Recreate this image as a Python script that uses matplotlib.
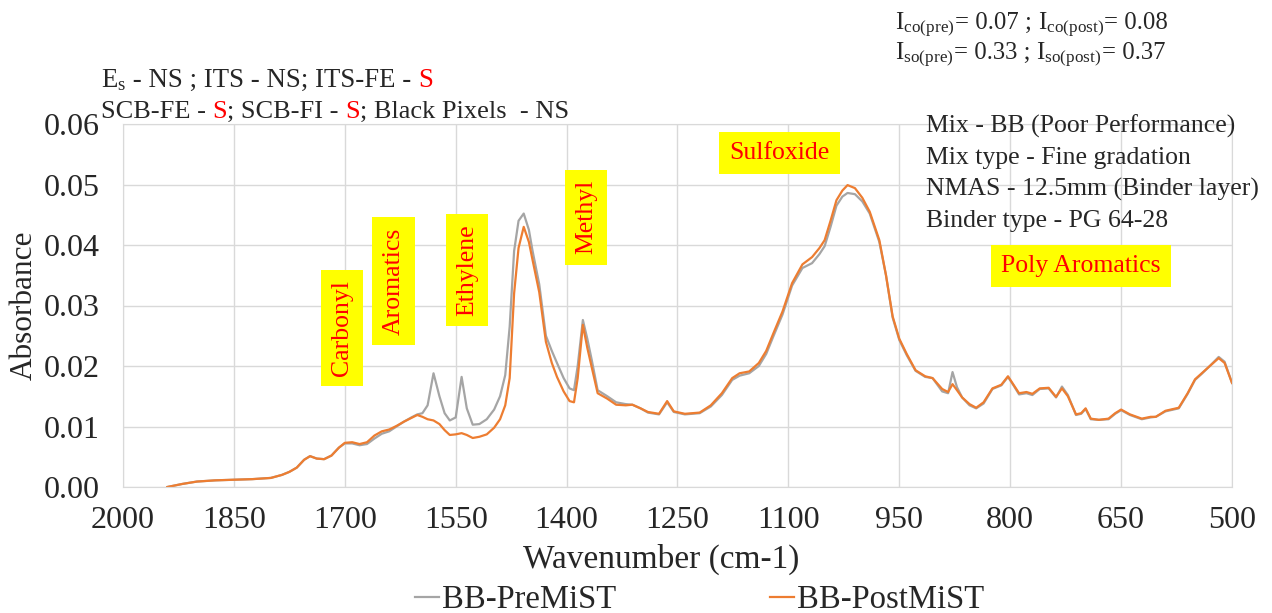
import matplotlib
matplotlib.use("Agg")
import matplotlib.pyplot as plt
from matplotlib.ticker import FormatStrFormatter

# FTIR spectra of the BB mix binder before and after MiST conditioning
wavenumber = [
    1940, 1920, 1900, 1875, 1850, 1825, 1800, 1785, 1775, 1765, 1755, 1747,
    1738, 1728, 1718, 1708, 1700, 1690, 1680, 1670, 1660, 1650, 1640, 1630,
    1620, 1610, 1602, 1595, 1588, 1580, 1572, 1565, 1558, 1550, 1542, 1535,
    1527, 1518, 1508, 1498, 1490, 1483, 1477, 1471, 1465, 1458, 1451, 1446,
    1437, 1428, 1420, 1413, 1404, 1396, 1390, 1385, 1378, 1372, 1366, 1358,
    1345, 1333, 1320, 1311, 1300, 1290, 1275, 1264, 1255, 1240, 1220, 1205,
    1190, 1176, 1166, 1153, 1140, 1130, 1120, 1108, 1095, 1081, 1068, 1058,
    1051, 1043, 1035, 1027, 1020, 1010, 1000, 990, 977, 968, 959, 950,
    940, 928, 915, 905, 892, 884, 878, 872, 865, 855, 846, 836,
    824, 812, 803, 795, 788, 778, 770, 760, 748, 738, 730, 722,
    711, 704, 698, 691, 680, 667, 658, 650, 638, 622, 610, 603,
    590, 572, 560, 550, 541, 530, 518, 510, 500,
]
pre_mist = [
    0.0000, 0.0005, 0.0009, 0.0011, 0.0012, 0.0013, 0.0015, 0.0020, 0.0025, 0.0032, 0.0045, 0.0051,
    0.0047, 0.0046, 0.0052, 0.0065, 0.0072, 0.0072, 0.0069, 0.0071, 0.0080, 0.0088, 0.0092, 0.0100,
    0.0108, 0.0115, 0.0120, 0.0122, 0.0135, 0.0188, 0.0150, 0.0122, 0.0110, 0.0115, 0.0182, 0.0130,
    0.0103, 0.0104, 0.0112, 0.0128, 0.0150, 0.0185, 0.0265, 0.0390, 0.0440, 0.0452, 0.0425, 0.0390,
    0.0335, 0.0250, 0.0225, 0.0205, 0.0180, 0.0163, 0.0160, 0.0200, 0.0276, 0.0245, 0.0210, 0.0160,
    0.0150, 0.0140, 0.0137, 0.0136, 0.0130, 0.0123, 0.0120, 0.0140, 0.0124, 0.0120, 0.0122, 0.0133,
    0.0152, 0.0177, 0.0184, 0.0188, 0.0200, 0.0220, 0.0250, 0.0285, 0.0333, 0.0362, 0.0370, 0.0385,
    0.0398, 0.0430, 0.0465, 0.0480, 0.0486, 0.0484, 0.0472, 0.0452, 0.0405, 0.0350, 0.0280, 0.0243,
    0.0218, 0.0192, 0.0182, 0.0180, 0.0158, 0.0155, 0.0190, 0.0165, 0.0148, 0.0135, 0.0130, 0.0138,
    0.0162, 0.0168, 0.0182, 0.0167, 0.0153, 0.0155, 0.0152, 0.0162, 0.0163, 0.0148, 0.0166, 0.0152,
    0.0119, 0.0121, 0.0129, 0.0112, 0.0111, 0.0112, 0.0121, 0.0127, 0.0119, 0.0112, 0.0115, 0.0116,
    0.0125, 0.0130, 0.0154, 0.0177, 0.0187, 0.0200, 0.0215, 0.0207, 0.0172,
]
post_mist = [
    0.0000, 0.0005, 0.0009, 0.0011, 0.0012, 0.0013, 0.0015, 0.0020, 0.0025, 0.0032, 0.0045, 0.0051,
    0.0047, 0.0046, 0.0052, 0.0065, 0.0073, 0.0074, 0.0071, 0.0074, 0.0085, 0.0092, 0.0095, 0.0101,
    0.0108, 0.0114, 0.0119, 0.0116, 0.0112, 0.0110, 0.0104, 0.0094, 0.0086, 0.0087, 0.0089, 0.0086,
    0.0081, 0.0083, 0.0087, 0.0098, 0.0112, 0.0135, 0.0180, 0.0320, 0.0395, 0.0430, 0.0405, 0.0375,
    0.0322, 0.0240, 0.0205, 0.0182, 0.0158, 0.0142, 0.0140, 0.0180, 0.0268, 0.0230, 0.0198, 0.0155,
    0.0146, 0.0136, 0.0135, 0.0136, 0.0130, 0.0124, 0.0121, 0.0142, 0.0125, 0.0121, 0.0123, 0.0135,
    0.0155, 0.0180, 0.0188, 0.0191, 0.0205, 0.0225, 0.0255, 0.0290, 0.0337, 0.0368, 0.0380, 0.0395,
    0.0408, 0.0440, 0.0474, 0.0490, 0.0499, 0.0494, 0.0478, 0.0455, 0.0408, 0.0350, 0.0282, 0.0245,
    0.0220, 0.0193, 0.0183, 0.0180, 0.0162, 0.0157, 0.0170, 0.0160, 0.0148, 0.0137, 0.0131, 0.0140,
    0.0163, 0.0169, 0.0183, 0.0168, 0.0155, 0.0157, 0.0154, 0.0163, 0.0164, 0.0149, 0.0163, 0.0150,
    0.0120, 0.0122, 0.0130, 0.0113, 0.0111, 0.0113, 0.0122, 0.0128, 0.0120, 0.0113, 0.0116, 0.0116,
    0.0126, 0.0131, 0.0155, 0.0178, 0.0188, 0.0200, 0.0213, 0.0205, 0.0172,
]
series_names = ["BB-PreMiST", "BB-PostMiST"]

# functional group labels: (name, wavenumber, absorbance, vertical?)
groups = [
    ("Carbonyl", 1704, 0.0263, True),
    ("Aromatics", 1634, 0.0340, True),
    ("Ethylene", 1535, 0.0359, True),
    ("Methyl", 1374, 0.0446, True),
    ("Sulfoxide", 1112, 0.0552, False),
    ("Poly Aromatics", 704, 0.0365, False),
]

mix_info = [
    "Mix - BB (Poor Performance)",
    "Mix type - Fine gradation",
    "NMAS - 12.5mm (Binder layer)",
    "Binder type - PG 64-28",
]

plt.rcParams["font.family"] = ["Liberation Serif", "DejaVu Serif"]
plt.rcParams["mathtext.fontset"] = "custom"
plt.rcParams["mathtext.rm"] = "Liberation Serif"
plt.rcParams["mathtext.it"] = "Liberation Serif:italic"

W, H = 1272, 613
dark = "#262626"
fig = plt.figure(figsize=(W / 100, H / 100), dpi=100)
ax = fig.add_axes([123 / W, 1 - 487 / H, (1232 - 123) / W, (487 - 124) / H])

ax.plot(wavenumber, pre_mist, color="#a5a5a5", lw=1.6, label=series_names[0])
ax.plot(wavenumber, post_mist, color="#ed7d31", lw=1.6, label=series_names[1])

ax.set_xlim(2000, 500)
ax.set_ylim(0, 0.06)
ax.set_xticks(range(2000, 499, -150))
ax.set_yticks([0, 0.01, 0.02, 0.03, 0.04, 0.05, 0.06])
ax.yaxis.set_major_formatter(FormatStrFormatter("%.2f"))
ax.grid(True, color="#d9d9d9", lw=1)
ax.set_axisbelow(True)
for sp in ax.spines.values():
    sp.set_color("#d9d9d9")
ax.tick_params(axis="both", length=0, labelsize=23, colors=dark)
ax.tick_params(axis="x", pad=14)
ax.tick_params(axis="y", pad=17)
ax.set_xlabel("Wavenumber (cm-1)", fontsize=24, color=dark, labelpad=6)
ax.xaxis.label.set_x(0.485)
ax.set_ylabel("Absorbance", fontsize=22.5, color=dark, labelpad=3)

for name, wn, ab, vertical in groups:
    ax.text(wn, ab, name, rotation=90 if vertical else 0, ha="center", va="center",
            fontsize=18.5, color="red",
            bbox=dict(boxstyle="square,pad=0.4", fc="yellow", ec="none"))

for i, line in enumerate(mix_info):
    fig.text(926 / W, 1 - (133 + 31.3 * i) / H, line, fontsize=18.5,
             color=dark, va="baseline", ha="left")

renderer = fig.canvas.get_renderer()


def text_run(x_px, base_px, parts, size):
    # write pieces one after another so single words can take their own colour
    x = x_px / W
    for s, c in parts:
        t = fig.text(x, 1 - base_px / H, s, fontsize=size, color=c,
                     va="baseline", ha="left")
        x = t.get_window_extent(renderer=renderer).x1 / W


text_run(101, 87, [(r"$\mathrm{E_s}$", dark), (" - NS ; ITS - NS; ITS-FE - ", dark),
                   ("S", "red")], 19.3)
text_run(101, 118, [("SCB-FE - ", dark), ("S", "red"), ("; SCB-FI - ", dark), ("S", "red"),
                    ("; Black Pixels  - NS", dark)], 19)
text_run(895, 29, [(r"$\mathrm{I_{co(pre)}}$", dark), ("= 0.07 ; ", dark),
                   (r"$\mathrm{I_{co(post)}}$", dark), ("= 0.08", dark)], 17.8)
text_run(895, 59, [(r"$\mathrm{I_{so(pre)}}$", dark), ("= 0.33 ; ", dark),
                   (r"$\mathrm{I_{so(post)}}$", dark), ("= 0.37", dark)], 17.8)

fig.legend(loc="center", bbox_to_anchor=(0.550, 1 - 600 / H), ncol=2, frameon=False,
           fontsize=23.5, handlelength=0.75, handletextpad=0.1, columnspacing=4.69,
           labelcolor=dark)

fig.savefig("out.png", dpi=100)
